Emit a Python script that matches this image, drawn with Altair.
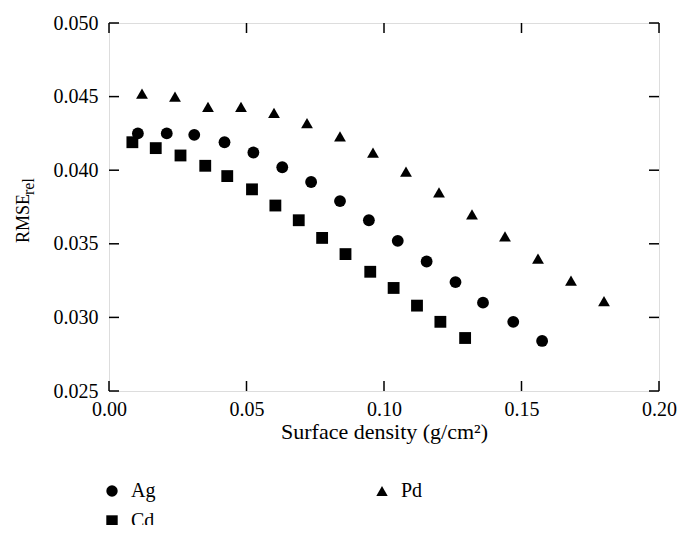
import altair as alt
import pandas as pd

# ---- data ----
series_order = ["Ag", "Cd", "Pd"]
series_shapes = ["circle", "square", "triangle-up"]

ag_x = [0.0105, 0.021, 0.031, 0.042, 0.0525, 0.063, 0.0735, 0.084, 0.0945, 0.105, 0.1155, 0.126, 0.136, 0.147, 0.1575]
ag_y = [0.0425, 0.0425, 0.0424, 0.0419, 0.0412, 0.0402, 0.0392, 0.0379, 0.0366, 0.0352, 0.0338, 0.0324, 0.0310, 0.0297, 0.0284]

cd_x = [0.0085, 0.017, 0.026, 0.035, 0.043, 0.052, 0.0605, 0.069, 0.0775, 0.086, 0.095, 0.1035, 0.112, 0.1205, 0.1295]
cd_y = [0.0419, 0.0415, 0.0410, 0.0403, 0.0396, 0.0387, 0.0376, 0.0366, 0.0354, 0.0343, 0.0331, 0.0320, 0.0308, 0.0297, 0.0286]

pd_x = [0.012, 0.024, 0.036, 0.048, 0.060, 0.072, 0.084, 0.096, 0.108, 0.120, 0.132, 0.144, 0.156, 0.168, 0.180]
pd_y = [0.0452, 0.0450, 0.0443, 0.0443, 0.0439, 0.0432, 0.0423, 0.0412, 0.0399, 0.0385, 0.0370, 0.0355, 0.0340, 0.0325, 0.0311]

x_ticks = [0.00, 0.05, 0.10, 0.15, 0.20]
y_ticks = [0.025, 0.030, 0.035, 0.040, 0.045, 0.050]

x_title = "Surface density (g/cm²)"
y_title_main = ["RMSE"]
y_title_sub = ["rel"]

FONT = "Liberation Serif"
W, H = 550, 368

df = pd.concat([
    pd.DataFrame({"x": ag_x, "y": ag_y, "series": "Ag"}),
    pd.DataFrame({"x": cd_x, "y": cd_y, "series": "Cd"}),
    pd.DataFrame({"x": pd_x, "y": pd_y, "series": "Pd"}),
], ignore_index=True)

xscale = alt.Scale(domain=[0, 0.2], nice=False, zero=False)
yscale = alt.Scale(domain=[0.025, 0.05], nice=False, zero=False)

xaxis = alt.Axis(values=x_ticks, format=".2f", title=x_title, ticks=False,
                 domain=False, grid=False, labelPadding=8, titlePadding=2,
                 labelFlush=False, labelOverlap=False,
                 labelFont=FONT, labelFontSize=20, titleFont=FONT, titleFontSize=22,
                 labelColor="black", titleColor="black", titleFontWeight="normal")
yaxis = alt.Axis(values=y_ticks, format=".3f", title="", ticks=False,
                 domain=False, grid=False, labelPadding=11,
                 labelFlush=False, labelOverlap=False,
                 labelFont=FONT, labelFontSize=20, labelColor="black")

points = alt.Chart(df).mark_point(filled=True, opacity=1, size=140, color="black").encode(
    x=alt.X("x:Q", scale=xscale, axis=xaxis),
    y=alt.Y("y:Q", scale=yscale, axis=yaxis),
    shape=alt.Shape("series:N",
                    scale=alt.Scale(domain=series_order, range=series_shapes),
                    sort=series_order,
                    legend=alt.Legend(title=None, orient="none", legendX=-7, legendY=458,
                                      columns=2, columnPadding=216, rowPadding=10,
                                      labelFont=FONT, labelFontSize=20, labelColor="black",
                                      labelOffset=9, symbolSize=130,
                                      symbolFillColor="black", symbolStrokeColor="black",
                                      symbolStrokeWidth=0)),
)

xt = pd.DataFrame({"x": x_ticks})
yt = pd.DataFrame({"y": y_ticks})

tick_style = dict(color="black", strokeWidth=1.5)
bottom_ticks = alt.Chart(xt).mark_rule(**tick_style).encode(
    x=alt.X("x:Q", scale=xscale, axis=xaxis), y=alt.value(H), y2=alt.value(H - 10))
top_ticks = alt.Chart(xt).mark_rule(**tick_style).encode(
    x=alt.X("x:Q", scale=xscale, axis=xaxis), y=alt.value(0), y2=alt.value(10))
left_ticks = alt.Chart(yt).mark_rule(**tick_style).encode(
    y=alt.Y("y:Q", scale=yscale, axis=yaxis), x=alt.value(0), x2=alt.value(10))
right_ticks = alt.Chart(yt).mark_rule(**tick_style).encode(
    y=alt.Y("y:Q", scale=yscale, axis=yaxis), x=alt.value(W), x2=alt.value(W - 10))

ytitle_main = alt.Chart(pd.DataFrame({"t": y_title_main})).mark_text(
    angle=270, align="left", baseline="alphabetic", font=FONT, fontSize=18, color="black"
).encode(x=alt.value(-80), y=alt.value(220), text="t:N")
ytitle_sub = alt.Chart(pd.DataFrame({"t": y_title_sub})).mark_text(
    angle=270, align="left", baseline="alphabetic", font=FONT, fontSize=16, color="black"
).encode(x=alt.value(-75), y=alt.value(172), text="t:N")

chart = alt.layer(
    points, bottom_ticks, top_ticks, left_ticks, right_ticks, ytitle_main, ytitle_sub
).properties(
    width=W, height=H,
    autosize=alt.AutoSizeParams(type="none"),
    padding={"left": 101, "top": 15, "right": 23, "bottom": 134},
).configure_view(
    stroke="black", strokeWidth=1.5
).configure(background="white")

chart.save("out.html", embed_options={"renderer": "svg", "actions": False})
